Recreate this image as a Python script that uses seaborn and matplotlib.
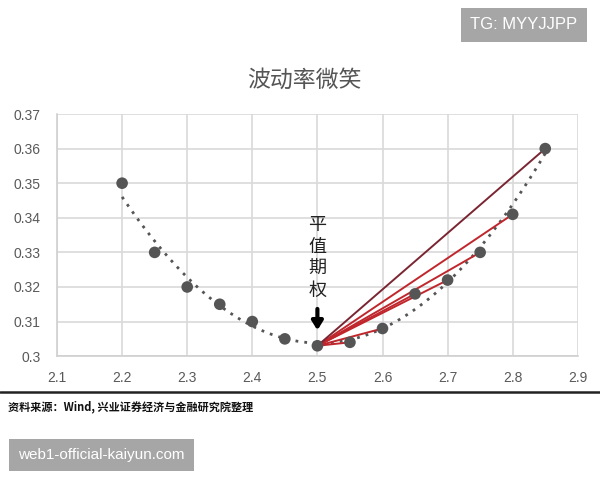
import numpy as np
import pandas as pd
import matplotlib
matplotlib.use("Agg")
import matplotlib.pyplot as plt
import seaborn as sns

# Ausübungspreise und implizite Volatilität
strike = [2.2, 2.25, 2.3, 2.35, 2.4, 2.45, 2.5, 2.55, 2.6, 2.65, 2.7, 2.75, 2.8, 2.85]
vol = [0.350, 0.330, 0.320, 0.315, 0.310, 0.305, 0.303, 0.304, 0.308, 0.318, 0.322, 0.330, 0.341, 0.360]
atm_strike = 2.5
atm_vol = 0.303
x_ticks = [2.1, 2.2, 2.3, 2.4, 2.5, 2.6, 2.7, 2.8, 2.9]
y_ticks = [0.30, 0.31, 0.32, 0.33, 0.34, 0.35, 0.36, 0.37]
y_labels = ["0.3", "0.31", "0.32", "0.33", "0.34", "0.35", "0.36", "0.37"]

df = pd.DataFrame({"strike": strike, "vol": vol})

sns.set_style("white")
plt.rcParams["font.family"] = ["Noto Sans CJK SC", "DejaVu Sans"]

fig = plt.figure(figsize=(6, 4.8), dpi=100)
ax = fig.add_axes([0.095, 0.258, 0.868, 0.5045])

# Trendlinie (Polynom 2. Ordnung)
sns.regplot(data=df, x="strike", y="vol", order=2, ci=None, scatter=False, ax=ax,
            line_kws=dict(color="#555555", lw=2, linestyle=(0, (1, 2.2))))

# Verbindungslinien vom ATM-Punkt zu den OTM-Punkten rechts
right = df[df["strike"] > atm_strike]
for i, row in right.iterrows():
    c = "#7a2632" if row["strike"] == right["strike"].max() else "#c0272d"
    ax.plot([atm_strike, row["strike"]], [atm_vol, row["vol"]], color=c, lw=1.4, zorder=3)

sns.scatterplot(data=df, x="strike", y="vol", ax=ax, color="#555555", s=70,
                edgecolor="none", zorder=4)

ax.set_xlim(2.1, 2.9)
ax.set_ylim(0.30, 0.37)
ax.set_xticks(x_ticks)
ax.set_xticklabels([str(t) for t in x_ticks])
ax.set_yticks(y_ticks)
ax.set_yticklabels(y_labels)
ax.grid(True, color="#d9d9d9", lw=1.2)
ax.set_axisbelow(True)
for s in ["top", "right"]:
    ax.spines[s].set_visible(False)
for s in ["left", "bottom"]:
    ax.spines[s].set_color("#d0d0d0")
    ax.spines[s].set_linewidth(1.2)
ax.tick_params(axis="both", length=0, labelsize=10, labelcolor="#595959")
ax.tick_params(axis="x", pad=11)
ax.tick_params(axis="y", pad=12)
for lab in ax.get_xticklabels() + ax.get_yticklabels():
    lab.set_family(["Liberation Sans", "DejaVu Sans"])
ax.set_xlabel("")
ax.set_ylabel("")

ax.annotate("平\n值\n期\n权", xy=(atm_strike, 0.3075), xytext=(atm_strike, 0.3162),
            ha="center", va="bottom", fontsize=13, linespacing=1.3, color="#222222",
            arrowprops=dict(arrowstyle="-|>,head_width=0.25,head_length=0.4",
                            color="black", lw=3, shrinkA=4, shrinkB=0))

fig.text(0.508, 0.833, "波动率微笑", ha="center", va="center", fontsize=16.5, color="#555555")

# Quelle und Trennlinie
fig.add_artist(plt.Line2D([0, 1], [0.183, 0.183], color="#222222", lw=1.8))
fig.text(0.013, 0.153, "资料来源：Wind, 兴业证券经济与金融研究院整理", ha="left", va="center",
         fontsize=8, color="#111111", fontweight="bold")

# Wasserzeichen
fig.text(0.9625, 0.948, "TG: MYYJJPP", ha="right", va="center", fontsize=12, color="white",
         family=["Liberation Sans", "DejaVu Sans"],
         bbox=dict(boxstyle="square,pad=0.55", fc="#a6a6a6", ec="none"))
fig.text(0.03, 0.052, "web1-official-kaiyun.com", ha="left", va="center", fontsize=11,
         color="white", family=["Liberation Sans", "DejaVu Sans"],
         bbox=dict(boxstyle="square,pad=0.6", fc="#a6a6a6", ec="none"))

fig.savefig("out.png", dpi=100)
